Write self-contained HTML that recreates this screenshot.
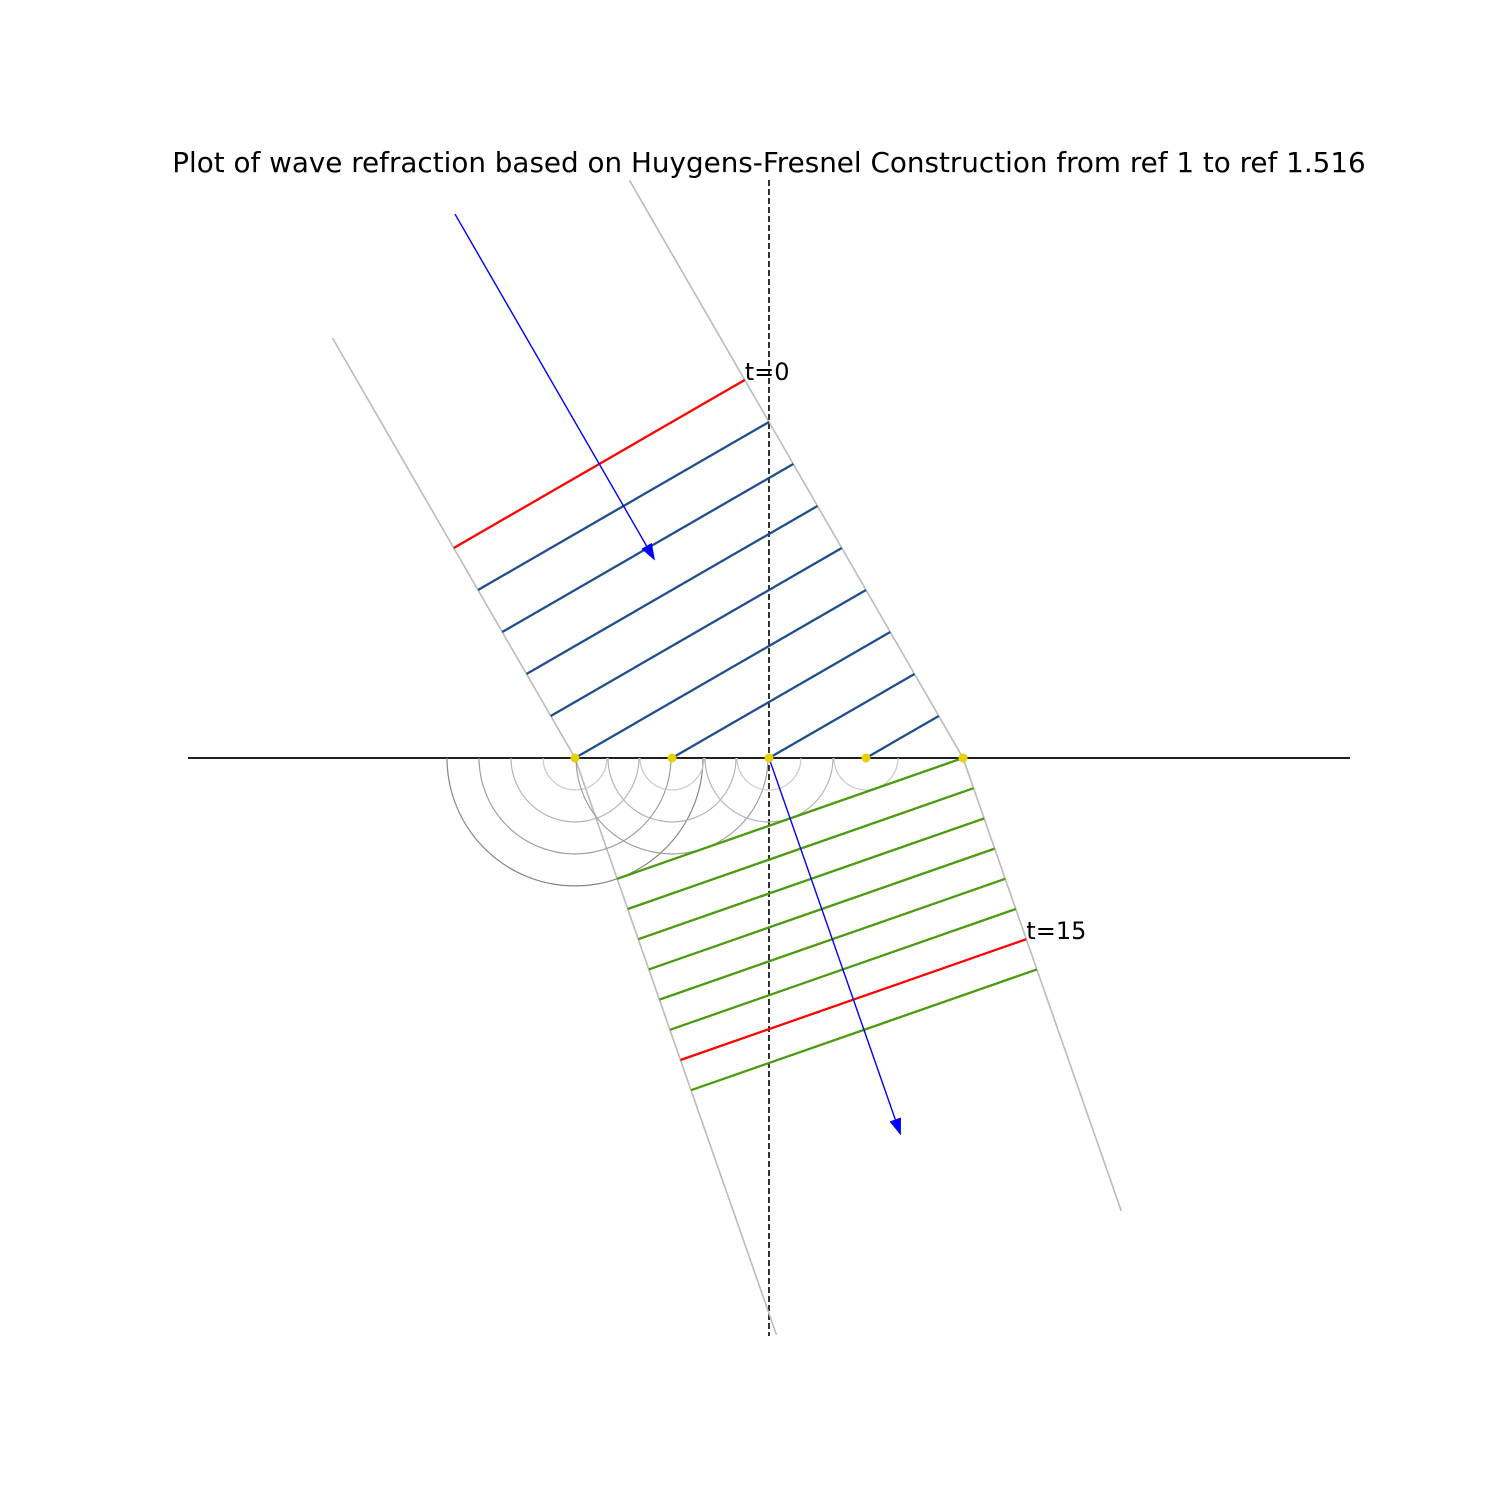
<!DOCTYPE html>
<html><head><meta charset="utf-8"><style>
html,body{margin:0;padding:0;background:#fff;}
svg{display:block;font-family:"Liberation Sans","DejaVu Sans",sans-serif;}
</style></head><body>
<svg id="chart" width="1500" height="1500" viewBox="0 0 1500 1500">
<text x="769" y="172" font-size="27.8" text-anchor="middle" fill="#000" font-family="DejaVu Sans, Liberation Sans, sans-serif">Plot of wave refraction based on Huygens-Fresnel Construction from ref 1 to ref 1.516</text>
<line x1="188" y1="758" x2="1350" y2="758" stroke="#000" stroke-width="1.8"/>
<line x1="769" y1="180" x2="769" y2="1336" stroke="#000" stroke-width="1.6" stroke-dasharray="6,3"/>
<g id="layer"></g>
</svg>
<script>
// data
const refIndices = [1, 1.516];
const incidenceDeg = [30];
const sourceX = [-2, -1, 0, 1, 2]; // source points in interface units
const incidentTimes = [0,1,2,3,4,5,6,7,8];
const refractedTimes = [9,10,11,12,13,14,15,16];
const labelTimes = [0, 15];

const NS = "http://www.w3.org/2000/svg";
const layer = document.getElementById('layer');
const ox = 769, oy = 758, unit = 97;
const th1 = incidenceDeg[0]*Math.PI/180;
const th2 = Math.asin(Math.sin(th1)*refIndices[0]/refIndices[1]);
const step1 = unit*Math.sin(th1);
const step2 = step1*refIndices[0]/refIndices[1];
const d1 = [Math.sin(th1), Math.cos(th1)];
const d2 = [Math.sin(th2), Math.cos(th2)];
const xs = sourceX.map(v => ox + v*unit);
const hitT = sourceX.map((v,i) => 5 + i);

function mk(tag, attrs){const e=document.createElementNS(NS,tag);for(const k in attrs)e.setAttribute(k,attrs[k]);layer.appendChild(e);return e;}
function rayPos(i,t){
  const x0 = xs[i];
  const dt = t - hitT[i];
  if (dt <= 0) return [x0 + d1[0]*step1*dt, oy + d1[1]*step1*dt];
  return [x0 + d2[0]*step2*dt, oy + d2[1]*step2*dt];
}
function pl(pts){return pts.map(p=>p[0].toFixed(1)+','+p[1].toFixed(1)).join(' ');}
// Boundary rays
const last = xs.length-1;
const bl = mk('polyline',{points:pl([rayPos(0,-5),rayPos(0,hitT[0]),rayPos(0,24.1)]),fill:'none',stroke:'#bbb','stroke-width':1.6});
 
const br = mk('polyline',{points:pl([rayPos(last,-4.75),rayPos(last,hitT[last]),rayPos(last,24)]),fill:'none',stroke:'#bbb','stroke-width':1.6});
 

// Huygens circles
sourceX.forEach((v,i)=>{
  const n = refractedTimes[0] - hitT[i];
  for(let k=1;k<=n;k++){
    const r = k*step2;
    const c = Math.round(225 - (k/4)*90);
    const a = mk('path',{d:`M${xs[i]-r},${oy} A${r},${r} 0 0 0 ${xs[i]+r},${oy}`,fill:'none',stroke:`rgb(${c},${c},${c})`,'stroke-width':1.2});
     
  }
});

// Incident wavefronts
incidentTimes.forEach(t=>{
  let a=null;
  for(let i=0;i<xs.length;i++){ if(hitT[i]>=t){a=rayPos(i,t);break;} }
  const b = rayPos(last,t);
  if(!a) return;
  const ln = mk('line',{x1:a[0],y1:a[1],x2:b[0],y2:b[1],stroke:labelTimes.includes(t)?'#ff0000':'#1f4e8c','stroke-width':2.3});
  
  
});
// Refracted wavefronts
refractedTimes.forEach(t=>{
  const a = rayPos(0,t), b = rayPos(last,t);
  const ln = mk('line',{x1:a[0],y1:a[1],x2:b[0],y2:b[1],stroke:labelTimes.includes(t)?'#ff0000':'#4c9a0e','stroke-width':2.3});
  
  
});
// labels
labelTimes.forEach(t=>{
  const p = rayPos(last,t);
  const tx = mk('text',{x:p[0],y:p[1]+0,'font-size':24,fill:'#000','font-family':'DejaVu Sans, Liberation Sans, sans-serif'});
  tx.textContent = 't='+t;
   
});
// arrows
function arrow(x1,y1,x2,y2,name){
  const dx=x2-x1, dy=y2-y1, L=Math.hypot(dx,dy), ux=dx/L, uy=dy/L;
  const hl=17, hw=6;
  const bx=x2-ux*hl, by=y2-uy*hl;
  const l = mk('line',{x1,y1,x2:bx,y2:by,stroke:'#0000ff','stroke-width':1.4});
   
  const h = mk('polygon',{points:`${x2},${y2} ${bx-uy*hw},${by+ux*hw} ${bx+uy*hw},${by-ux*hw}`,fill:'#0000ff'});
   
}
const ia = rayPos(2,hitT[2]-12.95), ib = rayPos(2,hitT[2]-4.7);
arrow(ia[0], ia[1], ib[0], ib[1], 'incident-arrow');
const ra = rayPos(2,hitT[2]), rb = rayPos(2,hitT[2]+12.5);
arrow(ra[0],ra[1],rb[0],rb[1],'refracted-arrow');
// source points
xs.forEach(x=>{
  const c = mk('circle',{cx:x,cy:oy,r:4.5,fill:'#e8d000'});
   
});
</script>
</body></html>
